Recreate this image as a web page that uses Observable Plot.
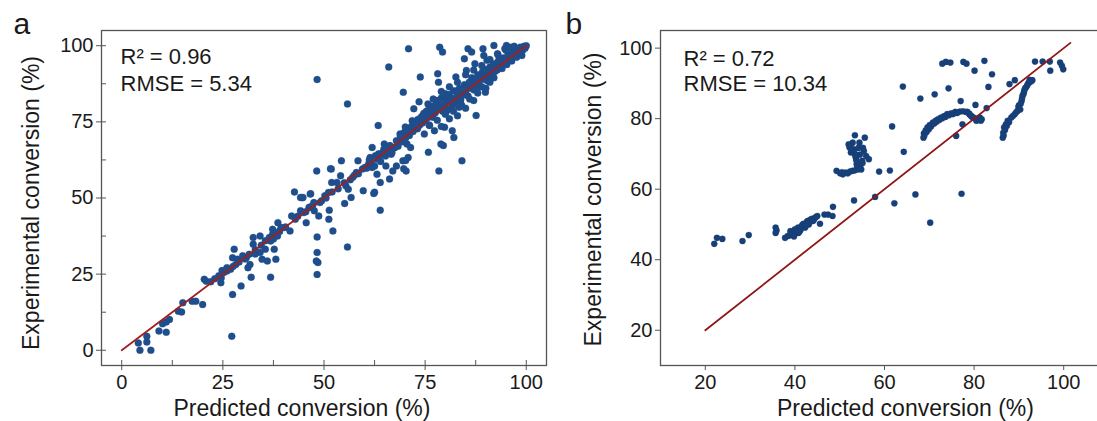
<!DOCTYPE html>
<html><head><meta charset="utf-8">
<script src="https://cdn.jsdelivr.net/npm/d3@7"></script>
<script src="https://cdn.jsdelivr.net/npm/@observablehq/plot@0.6"></script>
<style>
html,body{margin:0;padding:0;background:#fff;}
#wrap{position:relative;width:1097px;height:421px;overflow:hidden;background:#fff;}
#wrap svg{position:absolute;top:0;}
</style></head><body><div id="wrap"></div>
<script>
const panelLabels = ["a", "b"];
const xTitle = "Predicted conversion (%)";
const yTitle = "Experimental conversion (%)";
const statsA = ["R² = 0.96", "RMSE = 5.34"];
const statsB = ["R² = 0.72", "RMSE = 10.34"];
const ticksA = [0, 25, 50, 75, 100];
const minorTicksA = [12.5, 37.5, 62.5, 87.5];
const ticksB = [20, 40, 60, 80, 100];
const lineA = [[0, 0], [100, 100]];
const lineB = [[20, 20], [101.5, 101.5]];

// Panel a: [predicted, experimental]
const pointsA = [
[4.1,2.4],[4.5,0],[6.2,4.6],[6.2,2.7],[7.2,0],[9.2,6.3],[11,5.9],[10.1,8.7],[11,9.3],[11.8,10.1],[14,12.8],[14.8,12.6],[15.1,15.6],[17.4,16.1],[18.3,16.1],[20,15],[20.4,23.3],[20.9,22.7],[24.5,22.2],[24.6,23.8],[25.2,25.5],[24.8,26.2],[26,27.1],[26.9,26.6],[27.4,30.4],[27.8,33.2],[27.4,18.3],[27.2,4.6],[28.2,28.2],[28.6,29.9],[29.5,21.1],[29.9,31],[30.8,30.4],[31.2,27.1],[31.7,28.2],[32,24],[32.5,34.8],[32.5,37],[33,31.6],[34.2,37.5],[34.2,32.1],[34.7,29.9],[36,29.3],[35.5,33.2],[36.8,35.9],[37.3,38.1],[37.3,39.7],[36.8,24],[37.7,33.2],[38.1,29.9],[38.1,38.1],[38.6,41.9],[39,39.2],[39.4,40.3],[40.3,40.3],[41.6,39.2],[42,44.1],[42.9,43],[42.7,52],[44.2,50.2],[44.8,50.2],[44.2,45.8],[45,45.2],[45.6,41.9],[46.3,46.9],[46.6,51.3],[47.2,47.5],[47.6,45.8],[48.2,58.9],[48.3,37.2],[48.3,32.1],[48.1,29.3],[48.5,28.8],[48.3,24.9],[48.7,44.1],[48.3,88.9],[49.4,49.1],[50.2,50.7],[51.1,51.8],[51.3,46],[51.2,43],[52.2,39.2],[51.9,55.1],[51.8,59.5],[53.2,55.1],[54.1,57.3],[54.3,62.2],[55.1,48.2],[55.4,54],[56,52.9],[55.8,33.9],[55.8,80.9],[56.7,50.2],[57.1,56.8],[58,58.4],[58.4,62.2],[59.7,52.4],[60.1,60],[61,61.1],[61.4,63.3],[61.9,60],[62.3,51.5],[62.7,63.9],[61.9,66.6],[63.1,57.8],[63.4,73.8],[63.6,63.3],[63.9,55.1],[63.9,46],[64.5,64.9],[64.9,67.7],[65.3,60.5],[66,93],[66.2,56.2],[66.6,64.4],[67,58.9],[67.5,66.6],[67.9,60.5],[68.8,71],[69.5,62.2],[69.6,84.7],[70.1,73.3],[70.3,58.9],[70.5,67.7],[70.8,63.3],[70.9,99],[71.4,66.6],[71.8,75.4],[72.2,79.3],[73.1,72.7],[73.5,81.6],[73.8,89.7],[74.4,77.1],[74.8,71],[75.2,76],[75.7,80.9],[75.8,65],[76.1,73.8],[76.5,78.2],[77.3,72.1],[77.8,82],[78.1,90.8],[78.3,88],[78.4,58.9],[78.6,99.5],[78.9,67.7],[79.3,97.9],[79.5,67.2],[79.8,73.2],[80,84.2],[80.4,78.7],[81.3,82],[81.7,72.1],[82.1,69.9],[82.6,89.7],[83,85.3],[83.4,79.8],[84.1,62.2],[84.7,95.7],[85.2,91.9],[85.6,99],[86,86.4],[86.5,97.9],[87.3,94.1],[87.6,77.1],[88.2,89.7],[89.3,99],[89.5,96.8],[89.9,84.7],[90.3,95.2],[90.8,89.7],[92,100.1],[92.5,94.1],[92.9,97.4],[94.7,99],[95.1,100.1],[98.5,99.5],[98.9,96.8],
[60.5,59.8],[61.2,62.5],[61.8,61],[62.5,60.5],[63,62.8],[63.5,64.5],[64,62],[64.8,66],[65.2,63.8],[65.8,65.5],[66.3,67.2],[66.8,64.9],[67.4,66.5],[67.9,68.8],[68.3,67],[68.9,70.2],[69.4,68.5],[69.8,71.5],[70.2,69.8],[70.7,72.2],[71.1,70.5],[71.6,73.5],[72,71.8],[72.4,74.5],[72.8,72.8],
[73.2,75.8],[73.6,73.9],[74,76.5],[74.3,74.6],[74.7,77.8],[75,75.5],[75.3,78.5],[75.6,76.4],[76,79.2],[76.3,77.2],[76.6,80.1],[76.9,76.5],[77.2,79.8],[77.5,78],[77.8,81.2],[78.1,79],[78.4,82],[78.7,80.1],[79,82.8],[79.3,78.5],[79.6,83.5],[79.9,80.9],[80.2,82.5],[80.5,79.2],[80.8,84],[81.1,81.5],[81.4,83],[81.7,80],[82,85.2],[82.3,82.6],[82.6,81],[82.9,84.5],[83.2,83],[83.5,86],[83.8,82.2],[84.1,85],[84.4,83.8],[84.7,87.2],[85,84.8],[85.3,86.5],[85.6,83.5],[85.9,88],[86.2,86],[86.5,89.5],[86.8,87],[87.1,85.5],[87.4,88.8],[87.7,87.2],[88,90.5],[88.3,88],[88.6,86.5],[88.9,90],[89.2,91.5],[89.5,89],[89.8,92.2],[90.1,90],[90.4,88.5],[90.7,91.5],[91,93],[91.3,90.8],[91.6,92.2],[91.9,94],[92.2,91.5],[92.5,93.5],[92.8,92],[93.1,95],[93.4,93],[93.7,94.8],[94,92.5],[94.3,96],[94.6,94.5],[94.9,95.8],[95.2,93.8],[95.5,97],[95.8,95.5],[96.1,96.8],[96.4,95],[96.7,98],[97,96.5],[97.3,97.8],[97.6,96.2],[97.9,98.8],[98.2,97.5],[98.5,98.2],[98.8,99.2],[99.1,98.5],[99.4,99.8],[99.7,99.2],[100,100],
[76,74],[78,75.5],[80,77.5],[82,78.5],[84,80.5],[86,82.5],[88,84.5],[90,86],[92,89.5],[79,73.5],[81,76],[83,77],[85,79.5],[87,82],[89,86.5],[91,88],
[77,82.5],[79,85],[81,86.5],[83,88],[85,90.5],[87,92],[89,93.5],[91,95.5],[93,97],[95,98.5],[96,99.5],[97,99.8],
[22,22.5],[23,23.5],[24,24.5],[26,26],[27.5,27.5],[29,29],[30.5,30],[31.5,31.5],[33,33],[34.5,34.5],[35.5,36],[36.5,37],[37.5,36.5],[38.5,37.5],[39,39],[40.5,40.5],[43.5,44],[45.5,45.5],[46.5,47],[47.5,48.5],[49,48.5],[50.5,50],[52,52],[53.5,53],[55,55],[56.5,56],[57.5,57.5],[58.5,58],[59.5,59.5],
[44.6,50.1],[46.7,51.4],[51.6,59.6],[62.5,51.9],[69.7,59.6],[70.2,62.3]
];

// Panel b: [predicted, experimental]
const pointsB = [
[22,44.5],[22.6,46.2],[23.8,45.9],[28.3,45.3],[29.7,47],[35.7,47.6],[35.7,49.1],[35.9,48.3],[37.8,46.2],[38.4,46.7],[39,48.1],[39.6,47.2],[40,48.6],[40.4,47.6],[40.7,49.1],[41.1,48.1],[41.5,49.5],[41.9,50.2],[42.3,49.1],[42.7,50.8],[43.1,50],[43.5,51.4],[44,51],[44.5,51.9],[45,52.4],[45.6,50.2],[46.6,52.8],[47.4,52.8],[48.4,52.4],[48.5,55],
[38.8,46.9],[39.3,47.8],[40.2,48.2],[41.3,48.6],[41.7,49.9],[42.5,49.8],[42.9,51],[43.3,50.6],[43.8,51.6],[44.2,51.2],[44.7,52.1],[40.8,47.6],[39.8,46.6],
[49.3,65.2],[50.1,64.5],[50.7,64.2],[51.8,64.5],[52.8,65.2],[53.2,56.8],[53.4,75.3],[52,72.7],[52.2,71.8],[52.5,70.4],[52.9,73.2],[53.2,71.3],[53.6,68.9],[53.8,67.1],[54,65.6],[54.4,66.3],[54.8,65.6],[55,68],[54.5,69.8],[54.2,71.7],[54.4,73.2],[55.2,71.7],[55.6,74.6],[55.9,69.4],[56.5,68.5],
[52.4,72.2],[52.7,71],[53,70.6],[53.4,70],[53.5,69.5],[53.7,68.2],[53.9,66.5],[54.2,66],[54.6,66.8],[55.1,67.4],[55.4,70.8],[52.3,65],[51.3,64.7],[50.5,64.8],[53.3,65.3],
[57.9,57.8],[58.8,65],[61.2,65.3],[61.7,77.8],[62.2,56],[64.1,89.1],[64.3,70.6],[66.9,58.5],[68,85.7],
[68.7,74.6],[68.8,75.8],[69.2,76.7],[69.6,77.5],[70.1,78.2],[70.2,50.5],[70.8,78.9],[71.2,86.9],[71.4,79.4],[71.9,79.8],[72.6,80.3],[72.9,95.6],[73.3,80.7],[73.7,96.1],[74,81.3],[74.3,88.6],[74.7,95.9],[74.9,81.5],[75.8,81.9],[76,75.1],[76.8,82],[77,85],[77.2,58.7],[77.4,78.4],[77.6,96.1],[78.2,81.9],[78.3,95.6],[78.9,81.4],[79.3,80.8],[79.7,80.3],[80.1,93.6],[80.3,83.9],[80.5,79.4],[80.9,80],[81.7,79.8],[82.3,96.4],[82.8,83],[83.2,89],[84,92.6],
[68.9,75.2],[69.4,76.2],[69.9,77],[70.4,77.8],[71.1,78.6],[71.6,79.1],[72.2,79.6],[72.9,80.1],[73.6,80.5],[74.4,81],[75.3,81.3],[76.2,81.6],[77.5,82.1],[78.5,81.9],[79,81.2],[79.5,80.6],[80,80.2],[80.7,79.6],[81.3,80.3],[81.5,79.4],
[86.4,74.6],[86.5,76],[86.7,77.5],[87.1,78.4],[87.5,79.4],[87.9,89.8],[88.3,80.3],[89.1,90.9],[89.1,81.3],[89.7,82.2],[89.9,83.3],[90.3,82.6],[90.6,85],[90.8,86.5],[91.1,87.4],[91.4,88.6],[91.8,89.3],[92.2,90.2],[92.8,90.7],
[86.6,75.2],[86.9,76.8],[87.3,77.9],[87.8,79],[88.7,80.8],[89.4,81.8],[90,83.8],[90.4,84.2],[90.7,85.7],[91,86.9],[91.2,88],[91.6,88.9],[92,89.8],[92.5,90.4],[93,90.9],[92.4,91],
[93.6,96.2],[95.3,96.2],[96.9,96.2],[97,93.6],[99.2,95.9],[99.6,95],[99.9,94]
];

const FONT = "'Liberation Sans', Arial, Helvetica, sans-serif";
const wrap = document.getElementById("wrap");

function panel(o) {
  const H = 421, mt = 30, mb = 56;
  const frameW = o.width - o.marginLeft - o.marginRight;
  const frameH = H - mt - mb;
  const marks = [];
  marks.push(Plot.dot(o.points, {x: d => d[0], y: d => d[1], r: o.dotR, fill: o.dotColor, stroke: o.dotColor, strokeOpacity: 0.35, strokeWidth: 0.8}));
  marks.push(Plot.line(o.line, {x: d => d[0], y: d => d[1], stroke: o.lineColor, strokeWidth: 1.8}));
  marks.push(Plot.frame({stroke: "#555", strokeWidth: 1.3}));
  marks.push(Plot.axisX({ticks: o.ticks, tickSize: 5, tickPadding: 4, fontSize: 20, label: null, stroke: "#555"}));
  marks.push(Plot.axisY({ticks: o.ticks, tickSize: 5, tickPadding: 3, fontSize: 20, label: null, stroke: "#555"}));
  if (o.inner) {
    marks.push(Plot.ruleX(o.inner, {x: d => d, insetTop: frameH - 5, stroke: "#555", strokeWidth: 1}));
    marks.push(Plot.ruleY(o.inner, {y: d => d, insetRight: frameW - 5, stroke: "#555", strokeWidth: 1}));
  }
  const t = {text: d => d, lineAnchor: "middle"};
  marks.push(Plot.text([o.stats[0]], {...t, frameAnchor: "top-left", textAnchor: "start", dx: o.statsDx, dy: o.statsDy[0], fontSize: 22}));
  marks.push(Plot.text([o.stats[1]], {...t, frameAnchor: "top-left", textAnchor: "start", dx: o.statsDx, dy: o.statsDy[1], fontSize: 22}));
  marks.push(Plot.text([o.label], {...t, frameAnchor: "top-left", textAnchor: "start", dx: o.labelDx, dy: -6.3, fontSize: 30}));
  marks.push(Plot.text([xTitle], {...t, frameAnchor: "bottom", textAnchor: "middle", dx: o.xTitleDx, dy: 43, fontSize: 23}));
  marks.push(Plot.text([yTitle], {...t, frameAnchor: "left", textAnchor: "middle", rotate: -90, dx: o.yTitleDx, dy: o.yTitleDy, fontSize: 23}));
  const svg = Plot.plot({
    width: o.width, height: H,
    marginLeft: o.marginLeft, marginRight: o.marginRight, marginTop: mt, marginBottom: mb,
    x: {domain: o.xDomain, label: null},
    y: {domain: o.yDomain, label: null},
    style: {fontFamily: FONT, color: "#1a1a1a", background: "transparent", overflow: "visible"},
    marks
  });
  svg.style.left = o.left + "px";
  wrap.appendChild(svg);
}

panel({
  points: pointsA, line: lineA, ticks: ticksA, inner: [...ticksA, ...minorTicksA],
  stats: statsA, label: panelLabels[0],
  xDomain: [-5, 105], yDomain: [-5, 105],
  width: 550, marginLeft: 101, marginRight: 4, left: 0,
  dotColor: "#1f4e8c", dotR: 3.5, lineColor: "#a11f1f",
  statsDx: 19, statsDy: [26.3, 53.7], labelDx: -88,
  xTitleDx: -22, yTitleDx: -69.4, yTitleDy: 5
});

panel({
  points: pointsB, line: lineB, ticks: ticksB, inner: null,
  stats: statsB, label: panelLabels[1],
  xDomain: [10, 110], yDomain: [10, 105],
  width: 560, marginLeft: 110, marginRight: 2, left: 550,
  dotColor: "#173f78", dotR: 3.1, lineColor: "#8e1616",
  statsDx: 23, statsDy: [28, 53], labelDx: -95,
  xTitleDx: 21, yTitleDx: -66.4, yTitleDy: 1.5
});
</script></body></html>
